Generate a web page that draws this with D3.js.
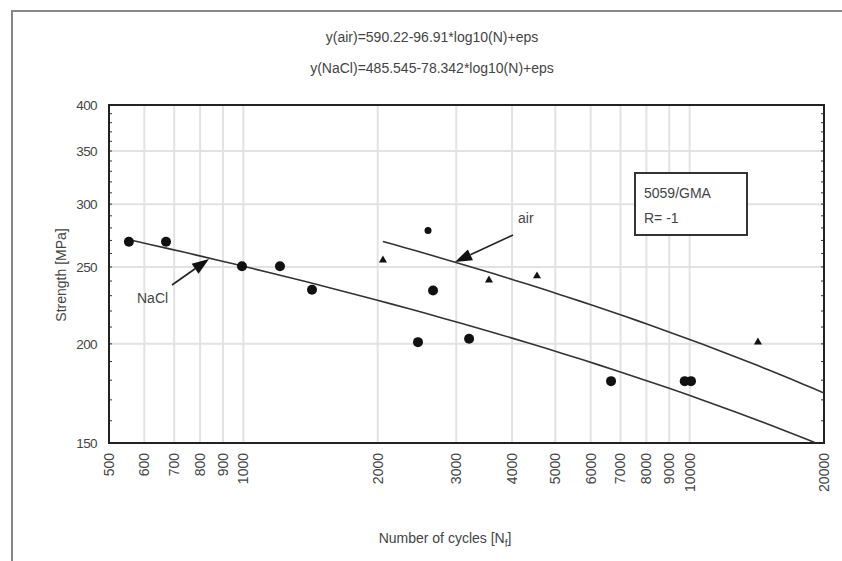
<!DOCTYPE html>
<html lang="en">
  <head>
    <meta charset="utf-8">
    <title>S-N curve</title>
    <script src="https://d3js.org/d3.v7.js"></script>
    <style>
      body { margin: 0; background: #fff; overflow: hidden; }
      text { font-family: "Liberation Sans", Arial, sans-serif; fill: #444; }
    </style>
  </head>
  <body>
  <script>

// data
var circleN = [554, 671, 993, 1208, 1425, 2462, 2661, 3205, 6666, 9750, 10070];
var circleS = [269, 269, 250.5, 250.5, 234, 201, 233.5, 203, 179.5, 179.5, 179.5];
var smallDotN = [2593];
var smallDotS = [278];
var triN = [2055, 3551, 4549, 14225];
var triS = [255, 240.6, 243.5, 201];

var xTicks = [500, 600, 700, 800, 900, 1000, 2000, 3000, 4000, 5000, 6000, 7000, 8000, 9000, 10000, 20000];
var yTicks = [150, 200, 250, 300, 350, 400];

var airFit = {a: 590.22, b: 96.91, from: 2055, to: 20000};
var naclFit = {a: 485.545, b: 78.342, from: 565, to: 20000};

var w = 842, h = 561;
var margin = {top: 105, right: 18, bottom: 118, left: 109};
var innerWidth = w - margin.left - margin.right;
var innerHeight = h - margin.top - margin.bottom;

var xScale = d3.scaleLog().domain([500, 20000]).range([0, innerWidth]);
var yScale = d3.scaleLog().domain([150, 400]).range([innerHeight, 0]);

var svg = d3.select("body").append("svg")
    .attr("width", w)
    .attr("height", h)
    .style("display", "block");

// outer frame
svg.append("path")
    .attr("d", "M12,561 V11 H842")
    .attr("fill", "none")
    .attr("stroke", "#888")
    .attr("stroke-width", 2);

svg.append("text")
    .attr("x", 432).attr("y", 42)
    .attr("text-anchor", "middle")
    .attr("font-size", 14)
    .text("y(air)=590.22-96.91*log10(N)+eps");
svg.append("text")
    .attr("x", 432).attr("y", 73)
    .attr("text-anchor", "middle")
    .attr("font-size", 14)
    .text("y(NaCl)=485.545-78.342*log10(N)+eps");

var g = svg.append("g")
    .attr("transform", `translate (${margin.left}, ${margin.top})`);

g.append("clipPath").attr("id", "clip")
  .append("rect").attr("width", innerWidth).attr("height", innerHeight);

// grid
g.selectAll(".vgrid")
    .data(xTicks.slice(1, -1))
  .enter().append("line")
    .attr("x1", d => xScale(d)).attr("x2", d => xScale(d))
    .attr("y1", 0).attr("y2", innerHeight)
    .attr("stroke", "#e2e2e2").attr("stroke-width", 2);
g.selectAll(".hgrid")
    .data(yTicks.slice(1, -1))
  .enter().append("line")
    .attr("x1", 0).attr("x2", innerWidth)
    .attr("y1", d => yScale(d)).attr("y2", d => yScale(d))
    .attr("stroke", "#e2e2e2").attr("stroke-width", 2);

// tick labels
g.selectAll(".xlab")
    .data(xTicks)
  .enter().append("text")
    .attr("transform", d => `translate(${xScale(d)}, ${innerHeight + 10}) rotate(-90)`)
    .attr("dy", "0.35em")
    .attr("text-anchor", "end")
    .attr("font-size", 14)
    .text(d => d);

g.selectAll(".ylab")
    .data(yTicks)
  .enter().append("text")
    .attr("x", -12)
    .attr("y", d => yScale(d))
    .attr("dy", "0.35em")
    .attr("text-anchor", "end")
    .attr("font-size", 13.5)
    .attr("letter-spacing", -0.6)
    .text(d => d);

// minor ticks on left and right frame
var minorY = d3.range(150, 401, 10);
g.selectAll(".mtl").data(minorY).enter().append("line")
    .attr("x1", 0).attr("x2", 3)
    .attr("y1", d => yScale(d)).attr("y2", d => yScale(d))
    .attr("stroke", "#333");
g.selectAll(".mtr").data(minorY).enter().append("line")
    .attr("x1", innerWidth - 3).attr("x2", innerWidth)
    .attr("y1", d => yScale(d)).attr("y2", d => yScale(d))
    .attr("stroke", "#333");

g.append("rect")
    .attr("width", innerWidth).attr("height", innerHeight)
    .attr("fill", "none").attr("stroke", "#222").attr("stroke-width", 2);

// fitted lines
function fitLine(f) {
  var pts = d3.range(0, 41).map(i => {
    var n = f.from * Math.pow(f.to / f.from, i / 40);
    return [n, f.a - f.b * Math.log10(n)];
  });
  return d3.line().x(d => xScale(d[0])).y(d => yScale(d[1]))(pts);
}
[airFit, naclFit].forEach(f => {
  g.append("path")
      .attr("d", fitLine(f))
      .attr("clip-path", "url(#clip)")
      .attr("fill", "none").attr("stroke", "#333").attr("stroke-width", 1.6);
});

// points
g.selectAll(".big").data(circleN).enter().append("circle")
    .attr("cx", d => xScale(d)).attr("cy", (d, i) => yScale(circleS[i]))
    .attr("r", 5).attr("fill", "#111");
g.selectAll(".small").data(smallDotN).enter().append("circle")
    .attr("cx", d => xScale(d)).attr("cy", (d, i) => yScale(smallDotS[i]))
    .attr("r", 3.5).attr("fill", "#111");
g.selectAll(".tri").data(triN).enter().append("path")
    .attr("d", d3.symbol(d3.symbolTriangle, 28))
    .attr("transform", (d, i) => `translate(${xScale(d)}, ${yScale(triS[i])})`)
    .attr("fill", "#111");

// arrows with labels
function arrow(x1, y1, x2, y2) {
  var ang = Math.atan2(y2 - y1, x2 - x1);
  var len = 17, half = 6;
  var bx = x2 - len * Math.cos(ang), by = y2 - len * Math.sin(ang);
  svg.append("line")
      .attr("x1", x1).attr("y1", y1).attr("x2", bx).attr("y2", by)
      .attr("stroke", "#222").attr("stroke-width", 1.6);
  svg.append("path")
      .attr("d", `M${x2},${y2} L${bx - half * Math.sin(ang)},${by + half * Math.cos(ang)} L${bx + half * Math.sin(ang)},${by - half * Math.cos(ang)} Z`)
      .attr("fill", "#111");
}
arrow(172, 285, 209, 259);
arrow(513, 235, 455, 262);

svg.append("text").attr("x", 137).attr("y", 303).attr("font-size", 14).text("NaCl");
svg.append("text").attr("x", 518).attr("y", 223).attr("font-size", 14).text("air");

// text box
svg.append("rect")
    .attr("x", 635).attr("y", 173).attr("width", 112).attr("height", 62)
    .attr("fill", "#fff").attr("stroke", "#333").attr("stroke-width", 2);
svg.append("text").attr("x", 644).attr("y", 198).attr("font-size", 14).text("5059/GMA");
svg.append("text").attr("x", 644).attr("y", 223).attr("font-size", 14).text("R= -1");

// axis titles
svg.append("text")
    .attr("transform", "translate(66, 275) rotate(-90)")
    .attr("text-anchor", "middle")
    .attr("font-size", 14)
    .text("Strength [MPa]");

var xt = svg.append("text")
    .attr("x", 445).attr("y", 543)
    .attr("text-anchor", "middle")
    .attr("font-size", 14);
xt.append("tspan").text("Number of cycles [N");
xt.append("tspan").attr("font-size", 10).attr("dy", 4).text("f");
xt.append("tspan").attr("dy", -4).text("]");

  </script>
  </body>
</html>
